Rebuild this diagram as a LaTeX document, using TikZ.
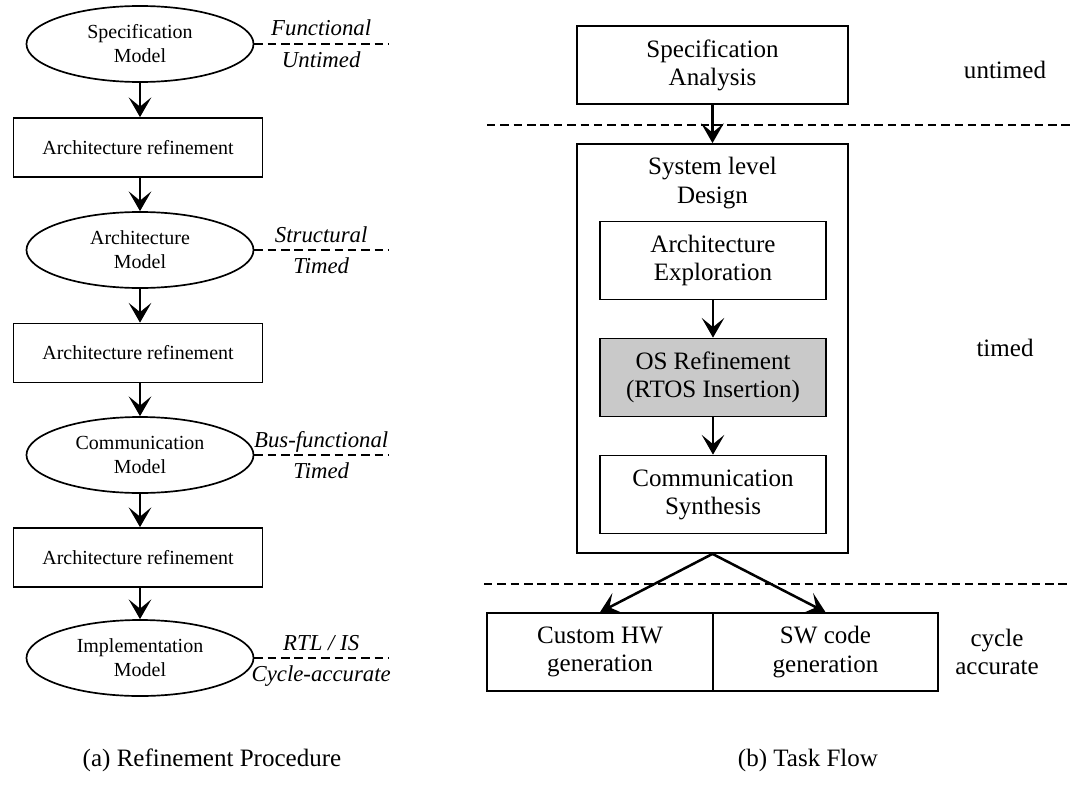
\documentclass[tikz,border=0pt]{standalone}
\usepackage{fontspec}
\setmainfont{Liberation Serif}
\usetikzlibrary{arrows.meta,shapes.geometric,calc}
\newdimen\pu \pu=0.71131pt
\begin{document}
\begin{tikzpicture}[x=0.025cm,y=-0.025cm,
  every node/.style={inner sep=0pt, align=center},
  lft/.style={font=\fontsize{14.2}{17}\selectfont},
  rgt/.style={font=\fontsize{17.8}{20}\selectfont},
  tag/.style={font=\fontsize{16.2}{18}\selectfont\itshape},
  model/.style={lft, draw, ellipse, line width=1.2pt, minimum width=227\pu, minimum height=76\pu},
  refbox/.style={lft, draw, rectangle, line width=1.2pt, minimum width=249\pu, minimum height=59\pu},
  taskbox/.style={rgt, draw, line width=1.2pt, minimum width=226\pu, minimum height=78\pu},
  flow/.style={-{Stealth[length=14pt,width=16pt,inset=6.5pt]}, line width=1.8pt},
  level/.style={dash pattern=on 6pt off 3.5pt, line width=0.9pt},
]
\useasboundingbox (0,0) rectangle (1070,795);

% ---- (a) refinement procedure ----
\node[model]  (m1) at (140,44)    {Specification\\Model};
\node[refbox] (r1) at (138,147.5) {Architecture refinement};
\node[model]  (m2) at (140,250)   {Architecture\\Model};
\node[refbox] (r2) at (138,353)   {Architecture refinement};
\node[model]  (m3) at (140,455)   {Communication\\Model};
\node[refbox] (r3) at (138,557.5) {Architecture refinement};
\node[model]  (m4) at (140,658)   {Implementation\\Model};

\draw[flow] (m1.south) -- (m1.south |- r1.north);
\draw[flow] (m1.south |- r1.south) -- (m2.north);
\draw[flow] (m2.south) -- (m2.south |- r2.north);
\draw[flow] (m2.south |- r2.south) -- (m3.north);
\draw[flow] (m3.south) -- (m3.south |- r3.north);
\draw[flow] (m3.south |- r3.south) -- (m4.north);

% abstraction levels of each model
\coordinate (tagend) at (388,0);
\foreach \m/\up/\dn in {m1/Functional/Untimed, m2/Structural/Timed,
                        m3/Bus-functional/Timed, m4/{RTL / IS}/Cycle-accurate}{
  \draw[level] (\m.east) -- (\m.east -| tagend) coordinate (\m-e);
  \node[tag, anchor=base] (\m-up) at ($(\m.east)!0.5!(\m-e)+(0,-8)$) {\up};
  \node[tag, anchor=base] (\m-dn) at ($(\m.east)!0.5!(\m-e)+(0,23)$) {\dn};
}

% ---- (b) task flow ----
\node[taskbox, minimum width=271\pu] (spec) at (712.5,65) {Specification\\Analysis};
\node[draw, line width=1.2pt, minimum width=271\pu, minimum height=409\pu] (sys) at (712.5,348.5) {};
\node[rgt] (systitle) at (712.5,183) {System level\\Design};
\node[taskbox] (arch) at (713,260.5) {Architecture\\Exploration};
\node[taskbox, fill=black!21] (os) at (713,377.5) {OS Refinement\\(RTOS Insertion)};
\node[taskbox] (comm) at (713,494.5) {Communication\\Synthesis};
\node[taskbox] (hw) at (600,652) {Custom HW\\generation};
\node[taskbox, minimum width=225\pu] (sw) at (825.5,652) {SW code\\generation};

\draw[flow] (spec.south) -- (sys.north);
\draw[flow] (arch.south) -- (os.north);
\draw[flow] (os.south) -- (comm.north);
\draw[flow] (sys.south) -- (hw.north);
\draw[flow] (sys.south) -- (sw.north);

% timing boundaries
\coordinate (b1a) at (487,125);
\coordinate (b1b) at (1070,125);
\coordinate (b2a) at (484,584);
\coordinate (b2b) at (1070,584);
\draw[level] (b1a) -- (b1b);
\draw[level] (b2a) -- (b2b);

\node[rgt] (untimed) at (1005,70)  {untimed};
\node[rgt] (timed)   at (1005,348) {timed};
\node[rgt] (cycacc)  at (997,652)  {cycle\\accurate};

% captions
\node[rgt] (capa) at (212,760) {(a) Refinement Procedure};
\node[rgt] (capb) at (808,760) {(b) Task Flow};
\end{tikzpicture}
\end{document}
